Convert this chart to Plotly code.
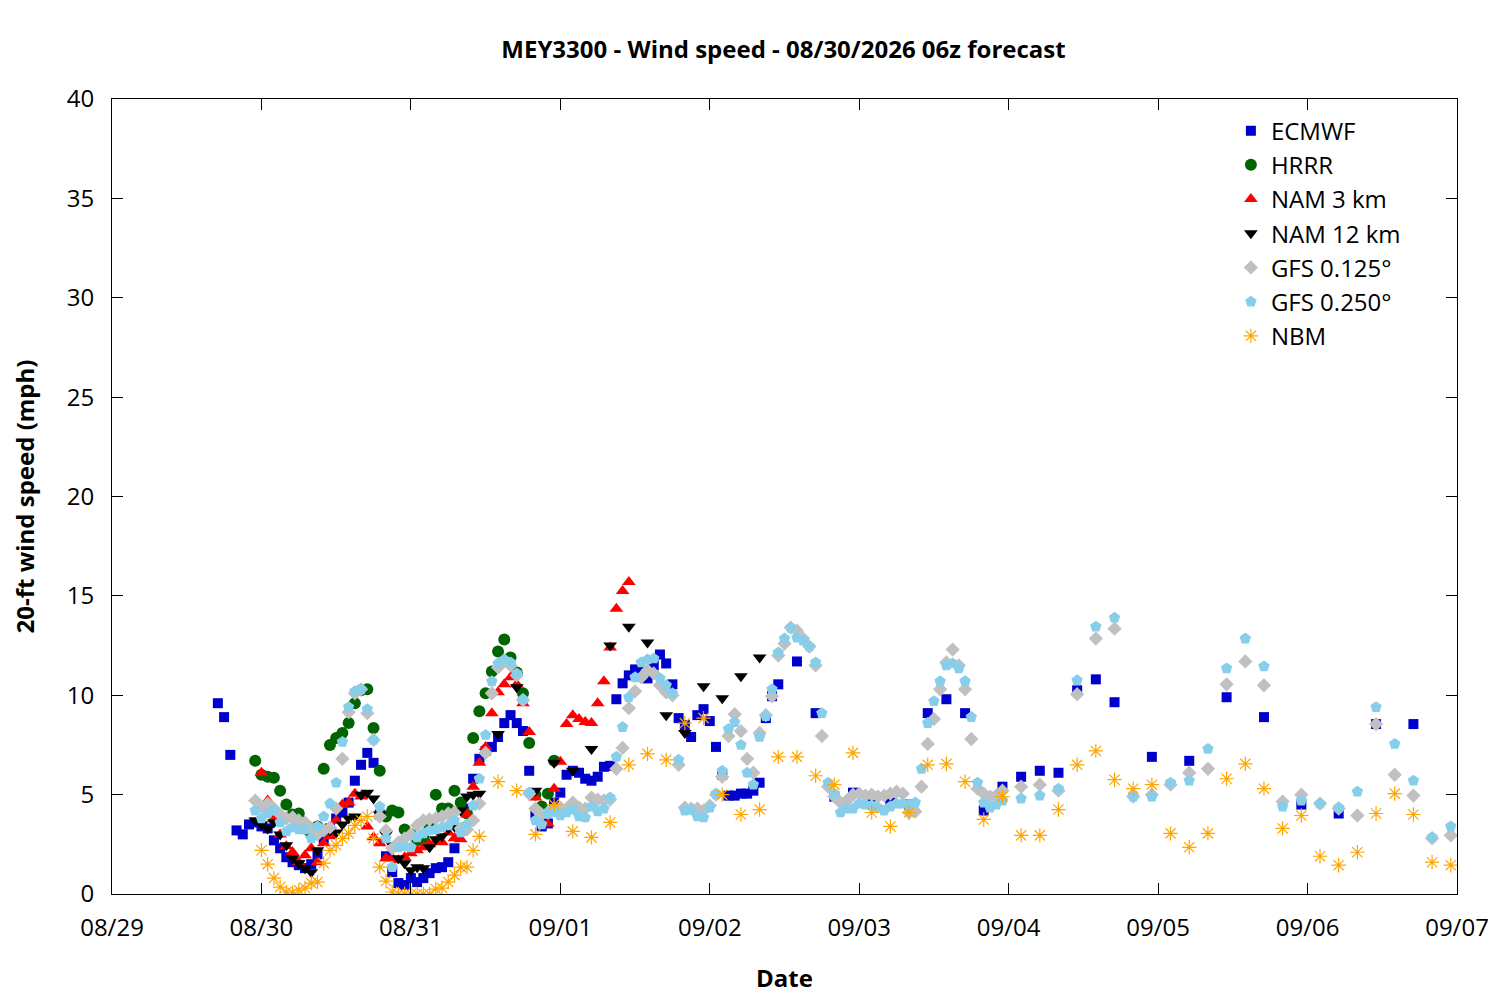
import plotly.graph_objects as go
from datetime import datetime, timedelta

BASE = datetime(2026, 8, 29, 0, 0)

# ---------------- data (hours after 08/29 00z, wind speed mph) ----------------
ecmwf_hours = list(range(17, 108)) + [110, 113, 116, 119, 122, 125, 128, 131, 134, 137, 140, 143,
                                      146, 149, 152, 155, 158, 161, 167, 173, 179, 185, 191, 197, 203, 209]
ecmwf_vals = [9.6, 8.9, 7.0, 3.2, 3.0, 3.5, 3.6, 3.4, 3.3, 2.7, 2.3, 1.85, 1.6, 1.45, 1.3, 1.5, 2.0, 2.8,
              3.3, 3.8, 4.1, 4.6, 5.7, 6.5, 7.1, 6.6, 4.0, 1.9, 1.1, 0.55, 0.45, 0.8, 0.6, 0.8, 1.05, 1.3,
              1.35, 1.6, 2.3, 3.2, 4.3, 5.8, 6.8, 7.2, 7.4, 7.9, 8.6, 9.0, 8.6, 8.2, 6.2, 4.0, 3.4, 3.55,
              4.6, 5.1, 6.0, 6.2, 6.1, 5.8, 5.7, 5.9, 6.4, 6.45, 9.8, 10.6, 11.0, 11.3, 11.2, 10.85, 11.5,
              12.05, 11.6, 10.55, 8.85, 8.5, 7.9, 9.0, 9.3, 8.7, 7.4, 6.0, 4.95, 4.95, 5.05, 5.05, 5.2,
              5.6, 8.85, 9.95, 10.55,
              11.7, 9.1, 4.9, 5.1, 4.9, 4.6, 4.5, 9.1, 9.8, 9.1, 4.2, 5.4,
              5.9, 6.2, 6.1, 10.25, 10.8, 9.65, 6.9, 6.7, 9.9, 8.9, 4.5, 4.05, 8.55, 8.55]

hrrr_hours = list(range(23, 72))
hrrr_vals = [6.7, 6.0, 5.9, 5.85, 5.2, 4.5, 4.0, 4.05, 3.3, 3.0, 3.4, 6.3, 7.5, 7.85, 8.1, 8.6, 9.6,
             10.25, 10.3, 8.35, 6.2, 3.9, 4.2, 4.1, 3.25, 3.0, 2.7, 2.8, 3.35, 5.0, 4.3, 4.3, 5.2, 4.6,
             4.05, 7.85, 9.2, 10.1, 11.2, 12.2, 12.8, 11.9, 11.15, 10.1, 7.6, 5.0, 4.4, 5.05, 6.7]

nam3_hours = list(range(24, 84))
nam3_vals = [6.1, 4.7, 3.8, 3.0, 2.4, 2.1, 1.6, 1.95, 2.3, 1.6, 2.55, 2.9, 3.7, 4.5, 4.6, 5.05, 4.9,
             3.4, 2.85, 2.55, 1.8, 1.8, 1.7, 1.85, 2.05, 2.2, 2.35, 2.5, 2.65, 2.6, 3.1, 2.8, 2.75, 4.0,
             5.4, 6.6, 7.4, 9.1, 10.15, 10.55, 10.9, 10.55, 9.6, 8.15, 4.85, 4.0, 3.55, 5.3, 6.65, 8.55,
             9.0, 8.8, 8.65, 8.6, 9.6, 10.7, 12.4, 14.35, 15.25, 15.7]

nam12_hours = list(range(23, 60)) + [62, 65, 68, 71, 74, 77, 80, 83, 86, 89, 92, 95, 98, 101, 104]
nam12_vals = [3.7, 3.5, 3.3, 3.6, 3.0, 2.45, 1.8, 1.55, 1.3, 1.1, 2.2, 3.3, 3.2, 3.1, 3.5, 3.8, 3.9,
              5.0, 5.1, 4.8, 4.0, 3.0, 2.45, 1.8, 1.55, 1.2, 1.35, 1.3, 2.35, 2.75, 2.9, 3.3, 3.4, 4.2,
              4.9, 5.0, 5.05,
              8.05, 10.4, 5.2, 6.6, 6.2, 7.3, 12.5, 13.45, 12.65, 9.0, 8.1, 10.45, 9.85, 10.95, 11.9]

gfs3h_hours = [146, 149, 152, 155, 158, 161, 164, 167, 170, 173, 176, 179, 182, 185, 188, 191, 194,
               197, 200, 203, 206, 209, 212, 215]
gfs125_hours = list(range(23, 144)) + gfs3h_hours
gfs125_vals = [4.7, 4.4, 4.55, 4.3, 4.0, 3.8, 3.85, 3.7, 3.6, 3.3, 3.0, 3.2, 3.35, 4.3, 6.8, 9.15, 10.1,
               10.3, 9.1, 7.75, 3.9, 3.2, 2.3, 2.6, 2.8, 3.0, 3.45, 3.7, 3.75, 3.8, 3.9, 4.05, 4.1, 3.3,
               3.25, 3.7, 4.55, 7.1, 10.1, 11.4, 11.7, 11.5, 11.0, 9.75, 5.05, 4.3, 4.0, 4.1, 4.3, 4.35,
               4.3, 4.6, 4.35, 4.3, 4.85, 4.75, 4.7, 4.75, 6.3, 7.35, 9.35, 10.2, 10.9, 11.25, 11.1, 10.5,
               10.15, 10.0, 6.5, 4.35, 4.3, 4.3, 4.2, 4.45, 5.0, 5.9, 7.95, 9.05, 8.2, 6.8, 6.1, 8.1, 9.0,
               9.95, 12.0, 12.6, 13.4, 13.25, 12.85, 12.45, 11.5, 7.95, 5.4, 4.9, 4.6, 4.7, 5.0, 5.05,
               4.95, 5.0, 4.9, 4.95, 5.05, 5.15, 5.05, 4.1, 4.15, 5.4, 7.55, 8.8, 10.3, 11.65, 12.3, 11.5,
               10.3, 7.8, 5.3, 5.05, 4.9, 4.95, 5.2,
               5.4, 5.5, 5.2, 10.05, 12.85, 13.35, 4.9, 5.0, 5.5, 6.1, 6.3, 10.55, 11.7, 10.5, 4.65, 5.0,
               4.55, 4.3, 3.95, 8.55, 6.0, 4.95, 2.8, 2.95]

gfs250_hours = list(range(23, 144)) + gfs3h_hours
gfs250_vals = [4.2, 3.8, 4.05, 4.2, 3.6, 3.15, 3.35, 3.25, 3.25, 2.8, 3.4, 3.9, 4.55, 5.6, 7.65, 9.4,
               10.2, 10.3, 9.3, 7.75, 4.4, 2.8, 1.35, 2.35, 2.4, 2.35, 2.85, 3.05, 3.2, 3.25, 3.35, 3.45,
               3.7, 3.1, 3.5, 4.45, 5.8, 8.0, 10.7, 11.6, 11.8, 11.65, 11.1, 9.8, 5.1, 3.7, 3.5, 4.05,
               4.1, 3.95, 4.1, 4.25, 3.9, 3.85, 4.4, 4.15, 4.3, 4.85, 6.9, 8.4, 9.9, 10.9, 11.65, 11.8,
               11.85, 10.85, 10.5, 10.1, 6.75, 4.2, 4.25, 3.9, 3.85, 4.35, 5.05, 6.2, 8.3, 8.65, 7.5, 6.1,
               5.5, 7.9, 8.95, 10.3, 12.15, 12.85, 13.4, 12.9, 12.75, 12.45, 11.65, 9.1, 5.6, 5.05, 4.1,
               4.3, 4.3, 4.55, 4.5, 4.45, 4.35, 4.2, 4.4, 4.55, 4.55, 4.5, 4.6, 6.3, 8.6, 9.7, 10.7, 11.5,
               11.6, 11.35, 10.7, 8.9, 5.6, 4.6, 4.35, 4.5, 4.7,
               4.8, 4.95, 5.3, 10.75, 13.45, 13.9, 4.9, 4.9, 5.6, 5.7, 7.3, 11.35, 12.85, 11.45, 4.4, 4.7,
               4.55, 4.35, 5.15, 9.4, 7.55, 5.7, 2.85, 3.4]

nbm_hours = list(range(24, 60)) + list(range(62, 216, 3))
nbm_vals = [2.2, 1.5, 0.8, 0.35, 0.1, 0.05, 0.2, 0.3, 0.55, 0.6, 1.55, 2.2, 2.45, 2.8, 3.05, 3.45, 3.7,
            3.9, 2.8, 1.35, 0.65, 0.1, 0.0, 0.0, 0.0, 0.0, 0.0, 0.0, 0.25, 0.3, 0.6, 0.95, 1.35, 1.35,
            2.2, 2.9,
            5.65, 5.2, 3.0, 4.5, 3.15, 2.85, 3.6, 6.5, 7.05, 6.75, 8.6, 8.85, 5.0, 4.0, 4.25, 6.9, 6.9,
            5.95, 5.5, 7.1, 4.1, 3.4, 4.1, 6.5, 6.55, 5.65, 3.75, 4.9, 2.95, 2.95, 4.25, 6.5, 7.2, 5.75,
            5.3, 5.5, 3.05, 2.35, 3.05, 5.8, 6.55, 5.3, 3.3, 3.95, 1.9, 1.45, 2.1, 4.05, 5.05, 4.0, 1.6,
            1.45]

tick_labels = ["08/29", "08/30", "08/31", "09/01", "09/02", "09/03", "09/04", "09/05", "09/06", "09/07"]
y_ticks = [0, 5, 10, 15, 20, 25, 30, 35, 40]

series = [
    ("ECMWF", ecmwf_hours, ecmwf_vals, "square", "#0000cd", 10),
    ("HRRR", hrrr_hours, hrrr_vals, "circle", "#006400", 12),
    ("NAM 3 km", nam3_hours, nam3_vals, "triangle-up", "#ff0000", 12),
    ("NAM 12 km", nam12_hours, nam12_vals, "triangle-down", "#000000", 12),
    ("GFS 0.125°", gfs125_hours, gfs125_vals, "diamond", "#c0c0c0", 11),
    ("GFS 0.250°", gfs250_hours, gfs250_vals, "pentagon", "#87ceeb", 12),
    ("NBM", nbm_hours, nbm_vals, "asterisk-open", "#ffa500", 12),
]

FONT = "Open Sans"
FS = 24

fig = go.Figure()
for name, hrs, vals, sym, col, size in series:
    assert len(hrs) == len(vals), name
    xs = [BASE + timedelta(hours=h) for h in hrs]
    if sym == "asterisk-open":
        marker = dict(symbol=sym, size=size, color=col, line=dict(color=col, width=1.2))
    else:
        marker = dict(symbol=sym, size=size, color=col, line=dict(width=0))
    fig.add_trace(go.Scatter(x=xs, y=vals, mode="markers", name=name, marker=marker))

tick_dates = [BASE + timedelta(days=i) for i in range(len(tick_labels))]

fig.update_layout(
    width=1500, height=1000,
    margin=dict(l=102, r=51, t=91, b=114),
    paper_bgcolor="white", plot_bgcolor="white",
    font=dict(family=FONT, size=FS, color="black"),
    title=dict(text="<b>MEY3300 - Wind speed - 08/30/2026 06z forecast</b>",
               x=0.517, xanchor="center", y=0.958, yanchor="middle",
               font=dict(family=FONT, size=FS, color="black")),
    showlegend=True,
    legend=dict(x=0.962, y=0.988, xanchor="right", yanchor="top",
                bgcolor="rgba(0,0,0,0)", font=dict(family=FONT, size=FS),
                tracegroupgap=0, itemsizing="trace"),
)
fig.update_xaxes(
    type="date", range=[tick_dates[0], tick_dates[-1]],
    tickvals=tick_dates, ticktext=tick_labels,
    showline=True, linecolor="black", linewidth=1, mirror="ticks",
    ticks="inside", ticklen=11, tickcolor="black", showgrid=False, zeroline=False,
    ticklabelstandoff=12,
    title=dict(text="<b>Date</b>", font=dict(family=FONT, size=FS), standoff=28),
    tickfont=dict(family=FONT, size=FS),
)
fig.update_yaxes(
    range=[0, 40], tickvals=y_ticks,
    showline=True, linecolor="black", linewidth=1, mirror="ticks",
    ticks="inside", ticklen=11, tickcolor="black", showgrid=False, zeroline=False,
    ticklabelstandoff=12,
    title=dict(text="<b>20-ft wind speed (mph)</b>", font=dict(family=FONT, size=FS), standoff=30),
    tickfont=dict(family=FONT, size=FS),
)

fig.write_html("out.html")
